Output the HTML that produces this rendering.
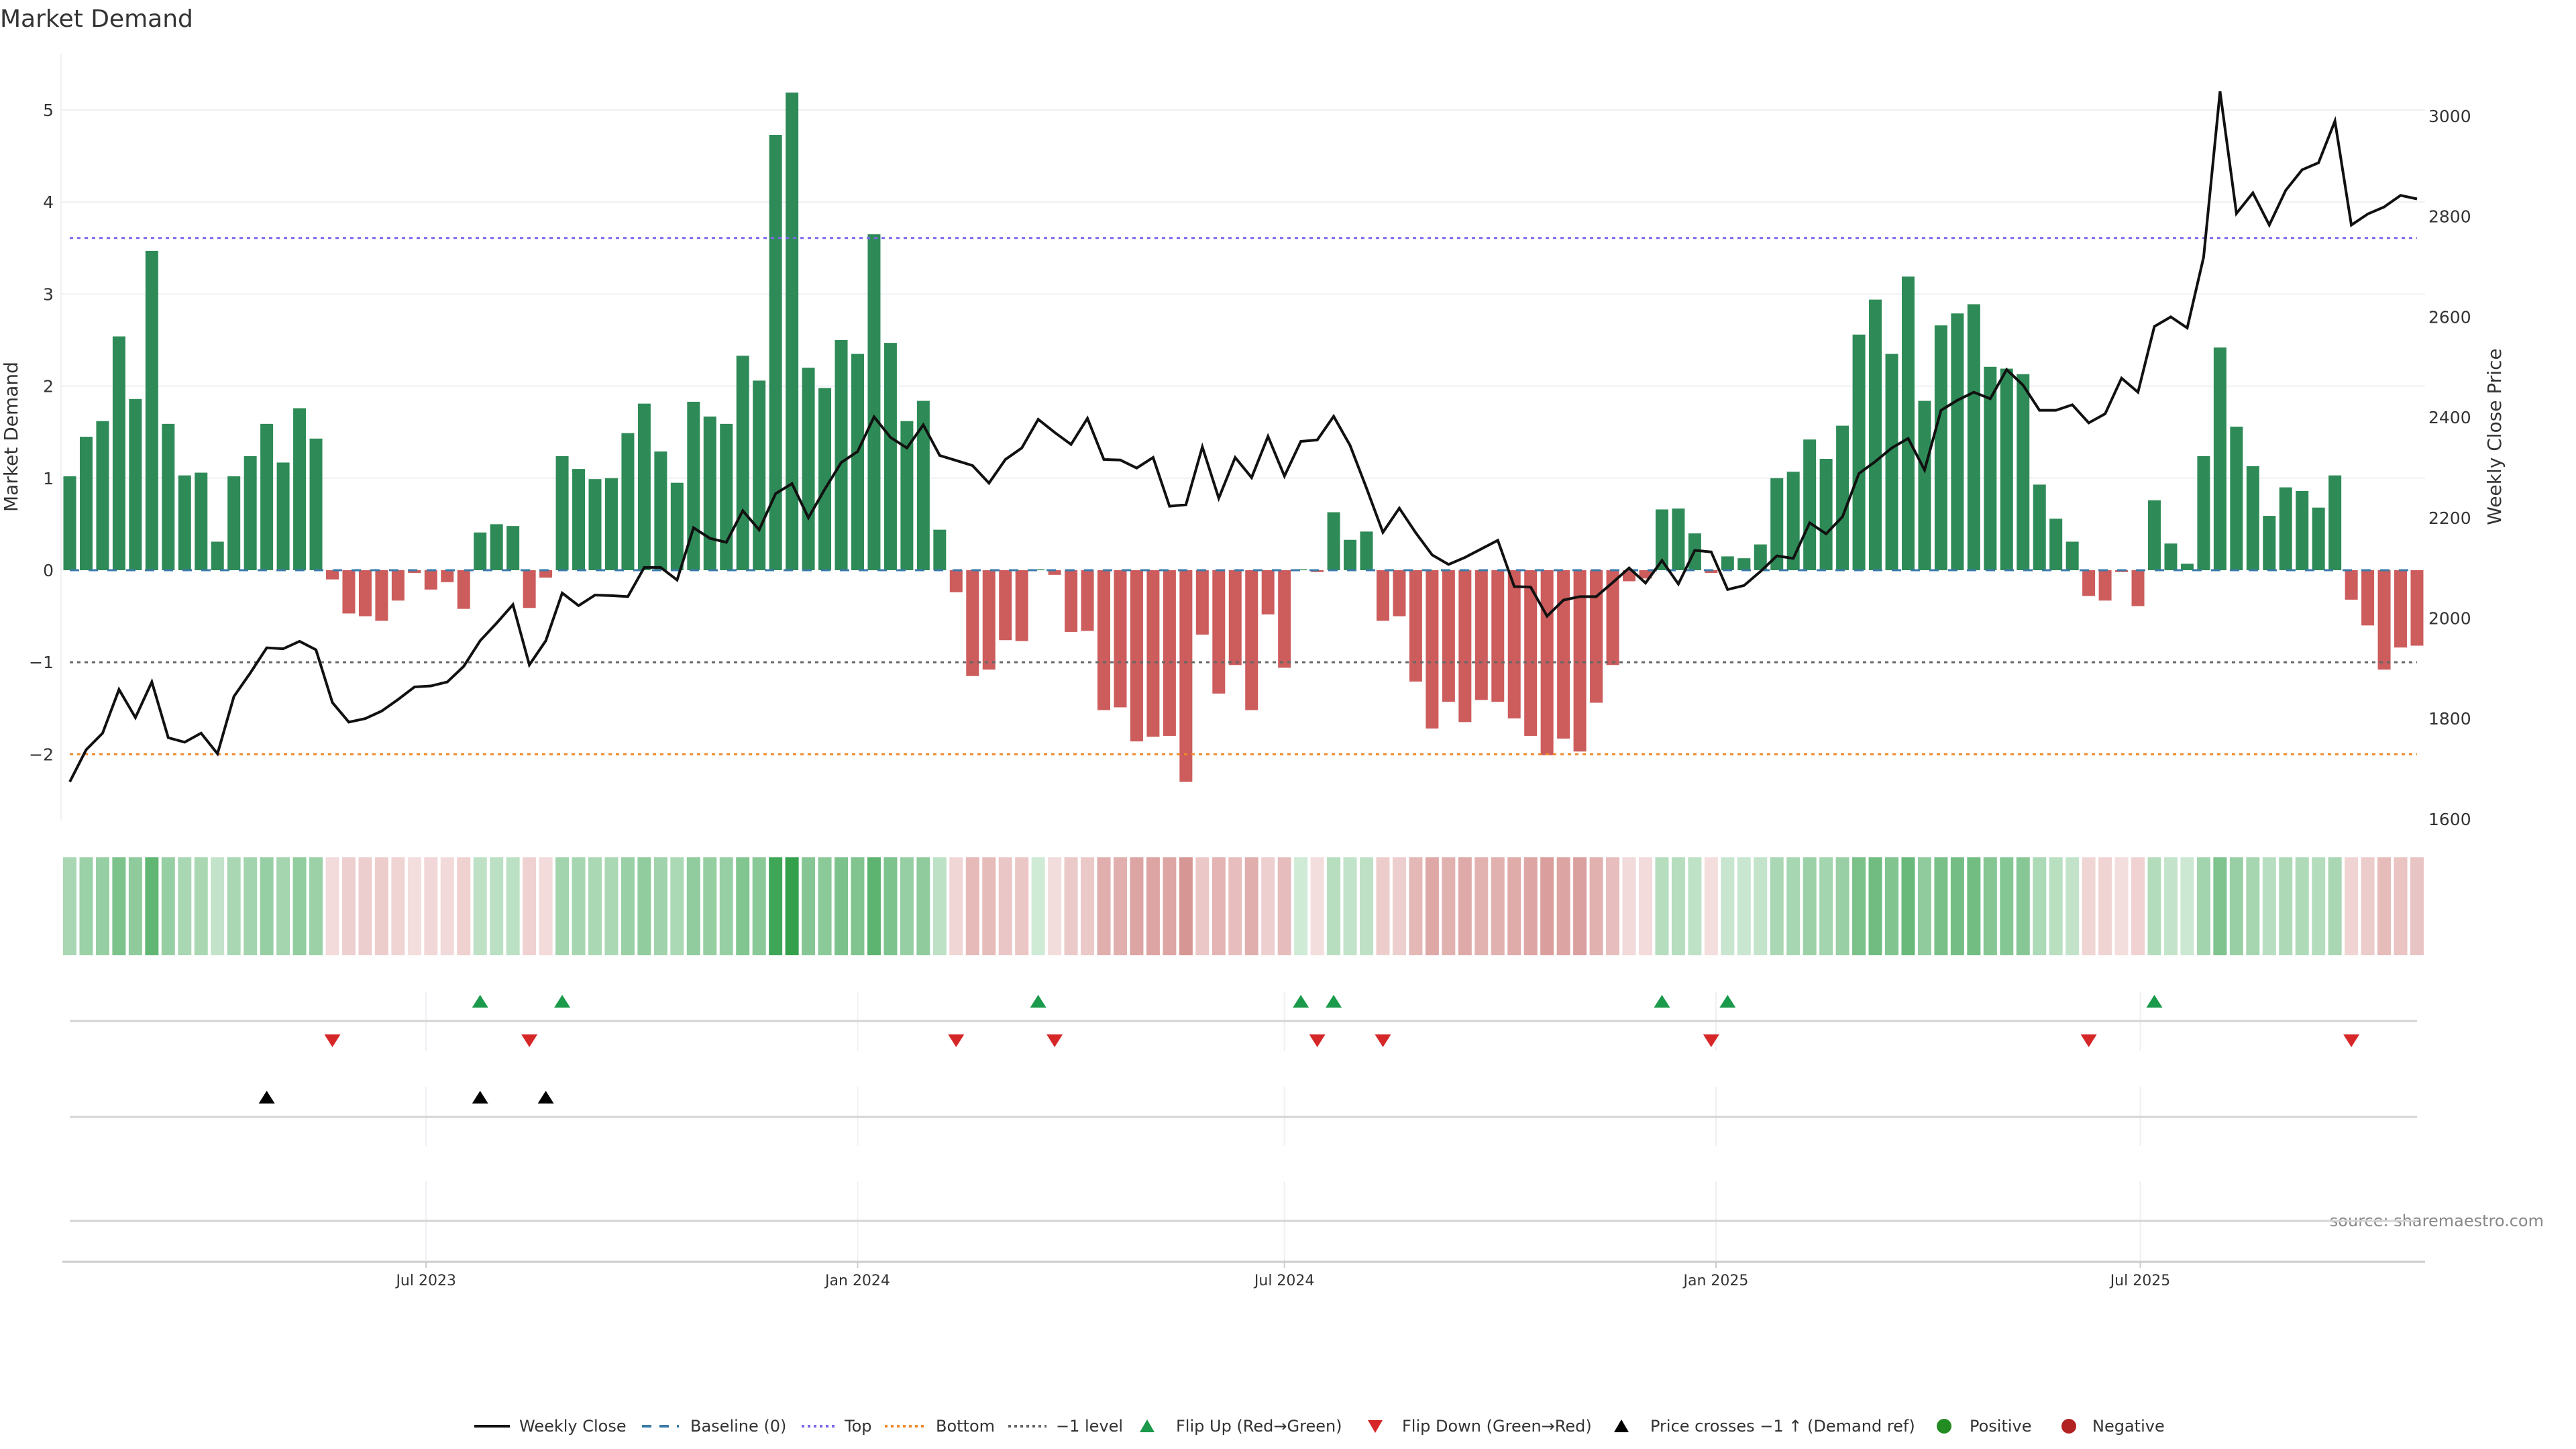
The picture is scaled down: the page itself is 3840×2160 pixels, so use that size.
<!DOCTYPE html>
<html><head><meta charset="utf-8"><style>
html,body{margin:0;padding:0;background:#fff;}
svg{display:block;font-family:"DejaVu Sans","Liberation Sans",sans-serif;}
</style></head><body>
<svg id="chart" width="3840" height="2160" viewBox="0 0 3840 2160" xmlns="http://www.w3.org/2000/svg">
<text x="0" y="40" font-size="36" fill="#333">Market Demand</text>
<text transform="translate(26,651) rotate(-90)" text-anchor="middle" font-size="28" fill="#333">Market Demand</text>
<text transform="translate(3728,651) rotate(-90)" text-anchor="middle" font-size="28" fill="#333">Weekly Close Price</text>
<text x="3792" y="1828" text-anchor="end" font-size="24" fill="#888">source: sharemaestro.com</text>
<g id="grid"></g><g id="bars"></g><g id="refs"></g><g id="price"></g><g id="heat"></g><g id="panels"></g><g id="axes"></g><g id="legend"></g>
</svg>
<script>
const demand = [1.02,1.45,1.62,2.54,1.86,3.47,1.59,1.03,1.06,0.31,1.02,1.24,1.59,1.17,1.76,1.43,-0.10,-0.47,-0.50,-0.55,-0.33,-0.03,-0.21,-0.13,-0.42,0.41,0.50,0.48,-0.41,-0.08,1.24,1.10,0.99,1.00,1.49,1.81,1.29,0.95,1.83,1.67,1.59,2.33,2.06,4.73,5.19,2.20,1.98,2.50,2.35,3.65,2.47,1.62,1.84,0.44,
-0.24,-1.15,-1.08,-0.76,-0.77,0.01,-0.05,-0.67,-0.66,-1.52,-1.49,-1.86,-1.81,-1.80,-2.30,-0.70,-1.34,-1.03,-1.52,-0.48,-1.06,0.01,-0.02,0.63,0.33,0.42,-0.55,-0.50,-1.21,-1.72,-1.43,-1.65,-1.41,-1.43,-1.61,-1.80,-2.01,-1.83,-1.97,-1.44,-1.03,-0.12,-0.09,0.66,
0.67,0.40,-0.03,0.15,0.13,0.28,1.00,1.07,1.42,1.21,1.57,2.56,2.94,2.35,3.19,1.84,2.66,2.79,2.89,2.21,2.19,2.13,0.93,0.56,0.31,-0.28,-0.33,-0.02,-0.39,0.76,0.29,0.07,1.24,2.42,1.56,1.13,0.59,0.90,0.86,0.68,1.03,-0.32,-0.60,-1.08,-0.84,-0.82];
const closePrice = [1674,1738,1771,1858,1802,1873,1762,1753,1771,1730,1844,1891,1941,1939,1954,1937,1832,1793,1800,1815,1838,1863,1865,1873,1904,1955,1990,2027,1907,1955,2050,2025,2046,2045,2043,2101,2101,2076,2180,2159,2151,2214,2176,2248,2268,2200,2257,2310,2332,2401,2360,2339,2385,2324,
2314,2304,2269,2316,2339,2396,2370,2346,2398,2316,2315,2299,2320,2223,2226,2341,2239,2320,2280,2362,2283,2352,2355,2402,2344,2259,2171,2219,2170,2126,2107,2121,2138,2155,2063,2062,2004,2036,2043,2043,2071,2100,2070,2115,
2068,2135,2132,2057,2065,2093,2124,2119,2190,2168,2202,2288,2312,2339,2358,2295,2414,2434,2450,2437,2495,2464,2414,2414,2425,2389,2407,2478,2450,2581,2600,2578,2719,3049,2806,2847,2783,2852,2893,2907,2990,2783,2805,2819,2842,2835];
const leftTicks = [5,4,3,2,1,0,-1,-2];
const rightTicks = [3000,2800,2600,2400,2200,2000,1800,1600];
const dateTicks = ["Jul 2023","Jan 2024","Jul 2024","Jan 2025","Jul 2025"];
const dateTickWeeks = [21.71,48.0,74.0,100.29,126.14];
const topLevel = 3.61, bottomLevel = -2, minusLevel = -1;

const NS="http://www.w3.org/2000/svg";
function mk(tag,attrs,parent){const e=document.createElementNS(NS,tag);for(const k in attrs)e.setAttribute(k,attrs[k]);parent.appendChild(e);return e;}
const X0=104, X1=3603, n=demand.length;
const xs=i=>X0+i*(X1-X0)/(n-1);
const yL=v=>850-v*137.2;
const yR=p=>173+(3000-p)/200*149.7;
const G=id=>document.getElementById(id);

leftTicks.forEach(t=>{
  if(t>0){const l=mk('line',{x1:91,x2:3615,y1:yL(t),y2:yL(t),stroke:'#eef0f3','stroke-width':2},G('grid'));
  
  }
  const tx=mk('text',{x:80,y:yL(t)+9,'text-anchor':'end','font-size':25,fill:'#333'},G('axes'));
  tx.textContent=(t<0?'\u2212'+(-t):String(t));
  
  
});
rightTicks.forEach(t=>{
  const tx=mk('text',{x:3620,y:yR(t)+9,'font-size':25,fill:'#333'},G('axes'));
  tx.textContent=String(t);
  
  
});
const ax=mk('line',{x1:91,x2:91,y1:80,y2:1223,stroke:'#eef0f3','stroke-width':2},G('axes'));



demand.forEach((v,i)=>{
  const y=Math.min(yL(v),yL(0)), h=Math.abs(yL(v)-yL(0));
  const r=mk('rect',{x:xs(i)-9.5,y:y,width:19,height:Math.max(h,0.5),fill:v>=0?'#2e8b57':'#cd5c5c'},G('bars'));
  
  
});
[[0,'#3a7aa8','14,14',3,'baseline-line'],[topLevel,'#7b68ee','5,6',3,'top-line'],[bottomLevel,'#ee8a2a','5,6',3,'bottom-line'],[minusLevel,'#666','5,6',3,'minus-one-line']].forEach(d=>{
  const l=mk('line',{x1:104,x2:3603,y1:yL(d[0]),y2:yL(d[0]),stroke:d[1],'stroke-dasharray':d[2],'stroke-width':d[3]},G('refs'));
  
  
});
const pl=mk('polyline',{points:closePrice.map((p,i)=>xs(i)+','+yR(p)).join(' '),fill:'none',stroke:'#111','stroke-width':4,'stroke-linejoin':'miter'},G('price'));



function mix(a,b,t){return 'rgb('+a.map((c,k)=>Math.round(c+(b[k]-c)*t)).join(',')+')';}
demand.forEach((v,i)=>{
  const t=Math.min(Math.abs(v)/5.2,1);
  const c=v>=0?mix([208,234,214],[52,160,76],Math.pow(t,0.85)):mix([244,222,222],[214,150,148],Math.min(Math.abs(v)/2.3,1));
  const r=mk('rect',{x:xs(i)-10,y:1278,width:20,height:146,fill:c},G('heat'));
  
  
});

[[1478,1567,1522],[1620,1708,1665],[1761,1880,1820]].forEach((p,k)=>{
  dateTickWeeks.forEach(w=>{const l=mk('line',{x1:xs(w),x2:xs(w),y1:p[0],y2:p[1],stroke:'#eef0f3','stroke-width':2},G('panels'));
  
  });
  const l=mk('line',{x1:104,x2:3603,y1:p[2],y2:p[2],stroke:'#d4d4d4','stroke-width':3},G('panels'));
  
  
});
function tri(x,y,up,color,name){
  const pts=up?[[x-12,y+9],[x+12,y+9],[x,y-10]]:[[x-12,y-9],[x+12,y-9],[x,y+10]];
  const t=mk('polygon',{points:pts.map(q=>q.join(',')).join(' '),fill:color},G('panels'));
  
  
}
for(let i=1;i<n;i++){
  if(demand[i-1]<0&&demand[i]>=0)tri(xs(i),1493,true,'#1a9a4a','flip-up-marker');
  if(demand[i-1]>=0&&demand[i]<0)tri(xs(i),1551,false,'#d62728','flip-down-marker');
  if(closePrice[i-1]<1912&&closePrice[i]>=1912)tri(xs(i),1636,true,'#000','price-cross-marker');
}
const xa=mk('line',{x1:93,x2:3615,y1:1881,y2:1881,stroke:'#ccc','stroke-width':3},G('axes'));


dateTicks.forEach((lab,k)=>{
  const x=xs(dateTickWeeks[k]);
  mk('line',{x1:x,x2:x,y1:1881,y2:1890,stroke:'#ccc','stroke-width':2},G('axes'));
  const t=mk('text',{x:x,y:1916,'text-anchor':'middle','font-size':22,fill:'#333'},G('axes'));
  t.textContent=lab;
  
  
});

const L=G('legend'), ly=2126;
function ltext(x,s){const t=mk('text',{x:x,y:ly+8,'font-size':24,fill:'#333'},L);t.textContent=s;return t;}
function litem(name){const g=mk('g',{},L);return g;}
let g;
g=litem('legend-weekly-close');mk('line',{x1:707,x2:760,y1:ly,y2:ly,stroke:'#111','stroke-width':4},g);g.appendChild(ltext(774,'Weekly Close'));
g=litem('legend-baseline');mk('line',{x1:957,x2:1012,y1:ly,y2:ly,stroke:'#3a7aa8','stroke-width':4,'stroke-dasharray':'14,12'},g);g.appendChild(ltext(1029,'Baseline (0)'));
g=litem('legend-top');mk('line',{x1:1195,x2:1245,y1:ly,y2:ly,stroke:'#7b68ee','stroke-width':4,'stroke-dasharray':'4,5'},g);g.appendChild(ltext(1259,'Top'));
g=litem('legend-bottom');mk('line',{x1:1319,x2:1380,y1:ly,y2:ly,stroke:'#ee8a2a','stroke-width':4,'stroke-dasharray':'4,5'},g);g.appendChild(ltext(1395,'Bottom'));
g=litem('legend-minus-one');mk('line',{x1:1503,x2:1560,y1:ly,y2:ly,stroke:'#666','stroke-width':4,'stroke-dasharray':'4,5'},g);g.appendChild(ltext(1574,'\u22121 level'));
g=litem('legend-flip-up');mk('polygon',{points:(1710-11)+','+(ly+9)+' '+(1710+11)+','+(ly+9)+' 1710,'+(ly-10),fill:'#1a9a4a'},g);g.appendChild(ltext(1753,'Flip Up (Red\u2192Green)'));
g=litem('legend-flip-down');mk('polygon',{points:(2050-11)+','+(ly-9)+' '+(2050+11)+','+(ly-9)+' 2050,'+(ly+10),fill:'#d62728'},g);g.appendChild(ltext(2090,'Flip Down (Green\u2192Red)'));
g=litem('legend-price-cross');mk('polygon',{points:(2417-11)+','+(ly+9)+' '+(2417+11)+','+(ly+9)+' 2417,'+(ly-10),fill:'#000'},g);g.appendChild(ltext(2460,'Price crosses \u22121 \u2191 (Demand ref)'));
g=litem('legend-positive');mk('circle',{cx:2898,cy:ly,r:11,fill:'#228b22'},g);g.appendChild(ltext(2936,'Positive'));
g=litem('legend-negative');mk('circle',{cx:3084,cy:ly,r:11,fill:'#b22222'},g);g.appendChild(ltext(3119,'Negative'));
</script>
</body></html>
